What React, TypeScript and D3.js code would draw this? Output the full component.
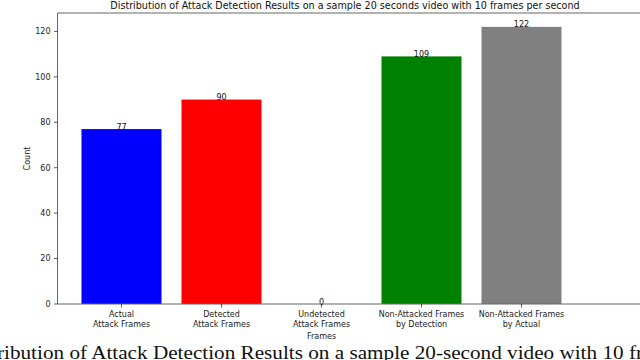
import React, { useEffect, useRef } from 'react'
import * as d3 from 'd3'

// data
const categories = [
  'Actual\nAttack Frames',
  'Detected\nAttack Frames',
  'Undetected\nAttack Frames',
  'Non-Attacked Frames\nby Detection',
  'Non-Attacked Frames\nby Actual',
]
const counts = [77, 90, 0, 109, 122]
const barColors = ['#0000ff', '#ff0000', '#ff8c00', '#008000', '#808080']
const yTicks = [0, 20, 40, 60, 80, 100, 120]

const title = 'Distribution of Attack Detection Results on a sample 20 seconds video with 10 frames per second'
const caption = 'ribution of Attack Detection Results on a sample 20-second video with 10 fr'

const W = 640
const H = 360
const FONT = 'DejaVu Sans, sans-serif'

export default function App() {
  const ref = useRef<SVGSVGElement>(null)

  useEffect(() => {
    const svg = d3.select(ref.current)
    svg.selectAll('*').remove()

    /* scales */
    const x = d3.scaleBand()
      .domain(categories)
      .range([71.5, 571.5])
      .paddingInner(0.2)
      .paddingOuter(0.1)
    const y = d3.scaleLinear()
      .domain([0, 128.1])
      .range([304, 13])

    const left = 57.5
    const right = 650

    /* bars */
    const bars = svg.append('g')
    bars.selectAll('rect')
      .data(counts)
      .enter()
      .append('rect')
      .attr('x', (_, i) => x(categories[i])!)
      .attr('y', d => y(d))
      .attr('width', x.bandwidth())
      .attr('height', d => y(0) - y(d))
      .attr('fill', (_, i) => barColors[i])

    /* value labels */
    bars.selectAll('text')
      .data(counts)
      .enter()
      .append('text')
      .attr('x', (_, i) => x(categories[i])! + x.bandwidth() / 2)
      .attr('y', d => y(d) + 0.5)
      .attr('text-anchor', 'middle')
      .attr('font-family', FONT)
      .attr('font-size', 8)
      .attr('fill', '#111')
      .text(d => d)

    /* frame */
    const frame = svg.append('g')
      .attr('stroke', '#666')
      .attr('stroke-width', 1)
    frame.append('line').attr('x1', left).attr('x2', left).attr('y1', y.range()[1]).attr('y2', y(0))
    frame.append('line').attr('x1', left).attr('x2', right).attr('y1', y.range()[1]).attr('y2', y.range()[1])
    frame.append('line').attr('x1', left).attr('x2', right).attr('y1', y(0)).attr('y2', y(0))

    /* y axis */
    const yAxis = svg.append('g')
    yTicks.forEach(t => {
      yAxis.append('line')
        .attr('x1', left - 3.5).attr('x2', left)
        .attr('y1', y(t)).attr('y2', y(t))
        .attr('stroke', '#333').attr('stroke-width', 0.8)
      yAxis.append('text')
        .attr('x', left - 7)
        .attr('y', y(t))
        .attr('dy', '0.35em')
        .attr('text-anchor', 'end')
        .attr('font-family', FONT)
        .attr('font-size', 8)
        .attr('fill', '#222')
        .text(t)
    })
    svg.append('text')
      .attr('transform', `translate(30,${(y(0) + y.range()[1]) / 2}) rotate(-90)`)
      .attr('text-anchor', 'middle')
      .attr('font-family', FONT)
      .attr('font-size', 8)
      .attr('fill', '#222')
      .text('Count')

    /* x axis */
    const xAxis = svg.append('g')
    categories.forEach(c => {
      const cx = x(c)! + x.bandwidth() / 2
      xAxis.append('line')
        .attr('x1', cx).attr('x2', cx)
        .attr('y1', y(0)).attr('y2', y(0) + 3.5)
        .attr('stroke', '#333').attr('stroke-width', 0.8)
      const lab = xAxis.append('text')
        .attr('text-anchor', 'middle')
        .attr('font-family', FONT)
        .attr('font-size', 8)
        .attr('fill', '#222')
      c.split('\n').forEach((line, k) => {
        lab.append('tspan')
          .attr('x', cx)
          .attr('y', 317 + k * 10)
          .text(line)
      })
    })
    const xMid = x(categories[2])! + x.bandwidth() / 2
    svg.append('text')
      .attr('x', xMid)
      .attr('y', 339)
      .attr('text-anchor', 'middle')
      .attr('font-family', FONT)
      .attr('font-size', 8)
      .attr('fill', '#222')
      .text('Frames')

    /* title */
    svg.append('text')
      .attr('x', 345)
      .attr('y', 9)
      .attr('text-anchor', 'middle')
      .attr('font-family', FONT)
      .attr('font-size', 9.6)
      .attr('fill', '#111')
      .text(title)

    /* cropped caption below the figure */
    svg.append('text')
      .attr('x', -3)
      .attr('y', 359)
      .attr('font-family', 'Liberation Serif, serif')
      .attr('font-size', 19)
      .attr('textLength', 646)
      .attr('lengthAdjust', 'spacingAndGlyphs')
      .attr('fill', '#111')
      .text(caption)
  }, [])

  return (
    <svg
      ref={ref}
      width={W}
      height={H}
      style={{ position: 'absolute', left: 0, top: 0, background: '#fff' }}
    />
  )
}
